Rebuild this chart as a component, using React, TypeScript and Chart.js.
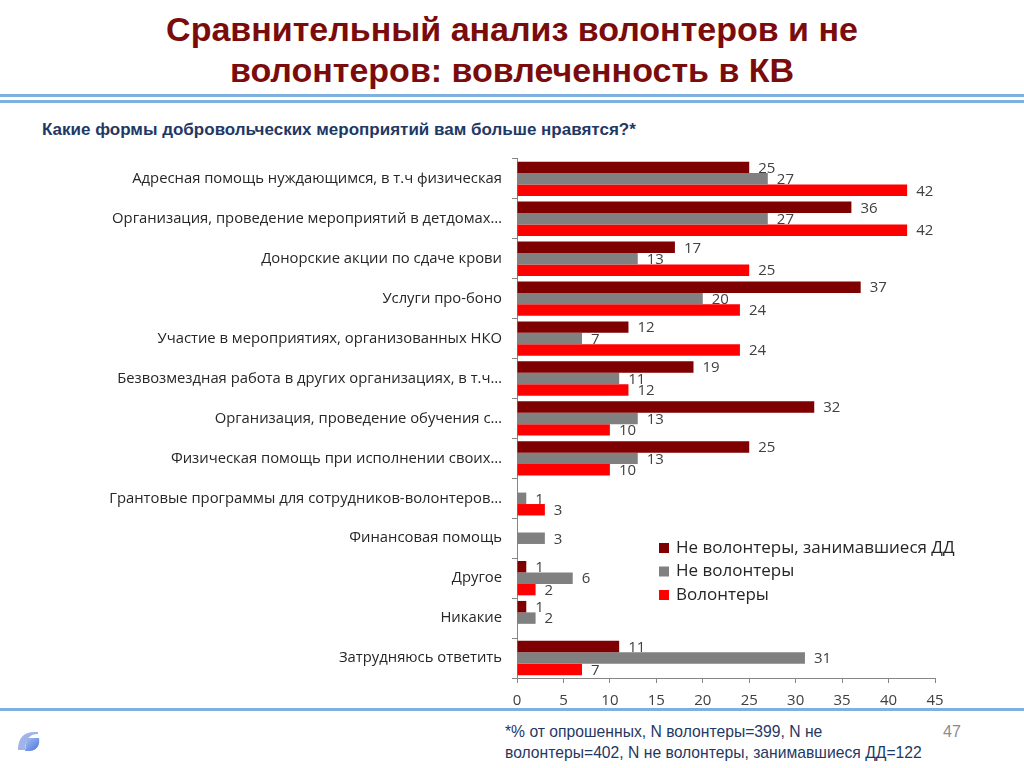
import React, { useEffect, useRef } from "react";
import { Chart, registerables } from "chart.js";

Chart.register(...registerables);

const categories: string[] = [
  "Адресная помощь нуждающимся, в т.ч физическая",
  "Организация, проведение мероприятий в детдомах…",
  "Донорские акции по сдаче крови",
  "Услуги про-боно",
  "Участие в мероприятиях, организованных НКО",
  "Безвозмездная работа в других организациях, в т.ч…",
  "Организация, проведение обучения с…",
  "Физическая помощь при исполнении своих…",
  "Грантовые программы для сотрудников-волонтеров…",
  "Финансовая помощь",
  "Другое",
  "Никакие",
  "Затрудняюсь ответить",
];

const nonVolunteersDD: (number | null)[] = [25, 36, 17, 37, 12, 19, 32, 25, null, null, 1, 1, 11];
const nonVolunteers: (number | null)[] = [27, 27, 13, 20, 7, 11, 13, 13, 1, 3, 6, 2, 31];
const volunteers: (number | null)[] = [42, 42, 25, 24, 24, 12, 10, 10, 3, null, 2, null, 7];

const seriesNames: string[] = ["Не волонтеры, занимавшиеся ДД", "Не волонтеры", "Волонтеры"];
const seriesColors: string[] = ["#7f0000", "#808080", "#ff0000"];

const xMin = 0;
const xMax = 45;
const xStep = 5;

const LABEL_FONT = "'Open Sans', 'Noto Sans', sans-serif";

const dataLabelPlugin = {
  id: "dataLabels",
  afterDatasetsDraw(chart: any) {
    const ctx = chart.ctx;
    ctx.save();
    ctx.font = `15px ${LABEL_FONT}`;
    ctx.fillStyle = "#404040";
    ctx.textAlign = "left";
    ctx.textBaseline = "middle";
    chart.data.datasets.forEach((ds: any, di: number) => {
      const meta = chart.getDatasetMeta(di);
      meta.data.forEach((el: any, i: number) => {
        const v = ds.data[i];
        if (v === null || v === undefined) return;
        ctx.fillText(String(v), el.x + 9, el.y + 1);
      });
    });
    ctx.restore();
  },
};

const legendPlugin = {
  id: "customLegend",
  afterDraw(chart: any) {
    const ctx = chart.ctx;
    ctx.save();
    ctx.font = `17px ${LABEL_FONT}`;
    ctx.textBaseline = "middle";
    ctx.textAlign = "left";
    const x0 = 659;
    const y0 = 548 - 140;
    const dy = 23.5;
    chart.data.datasets.forEach((ds: any, i: number) => {
      const y = y0 + i * dy;
      ctx.fillStyle = ds.backgroundColor;
      ctx.fillRect(x0, y - 5, 10, 10);
      ctx.fillStyle = "#262626";
      ctx.fillText(ds.label, x0 + 17, y);
    });
    ctx.restore();
  },
};

function ChartCanvas() {
  const ref = useRef<HTMLCanvasElement | null>(null);
  useEffect(() => {
    if (!ref.current) return;
    const chart = new Chart(ref.current, {
      type: "bar",
      data: {
        labels: categories,
        datasets: [
          { label: seriesNames[0], data: nonVolunteersDD, backgroundColor: seriesColors[0] },
          { label: seriesNames[1], data: nonVolunteers, backgroundColor: seriesColors[1] },
          { label: seriesNames[2], data: volunteers, backgroundColor: seriesColors[2] },
        ],
      },
      options: {
        indexAxis: "y",
        responsive: false,
        animation: false,
        layout: { padding: { top: 15, right: 89, left: 0, bottom: 0 } },
        datasets: {
          bar: { categoryPercentage: 0.86, barPercentage: 1.0 },
        },
        plugins: {
          legend: { display: false },
          tooltip: { enabled: false },
          title: { display: false },
        },
        scales: {
          x: {
            min: xMin,
            max: xMax,
            ticks: { stepSize: xStep, color: "#404040", font: { size: 15, family: LABEL_FONT }, padding: 9 },
            grid: { drawOnChartArea: false, drawTicks: true, tickLength: 5, color: "#868686" },
            border: { display: true, color: "#868686" },
            afterFit(scale: any) {
              scale.height = 42;
            },
          },
          y: {
            ticks: { color: "#262626", font: { size: 14.8, family: LABEL_FONT }, padding: 10, autoSkip: false },
            grid: { drawOnChartArea: false, drawTicks: true, tickLength: 5, color: "#868686", offset: true },
            border: { display: true, color: "#868686" },
            afterFit(scale: any) {
              scale.width = 517;
            },
          },
        },
      },
      plugins: [dataLabelPlugin, legendPlugin],
    } as any);
    return () => chart.destroy();
  }, []);
  return <canvas ref={ref} width={1024} height={580} style={{ position: "absolute", left: 0, top: 140, width: 1024, height: 580 }} />;
}

export default function App() {
  useEffect(() => {
    document.body.style.margin = "0";
  }, []);
  const narrow = "'Liberation Sans Narrow', 'Arial Narrow', 'Liberation Sans', Arial, sans-serif";
  return (
    <div style={{ position: "relative", width: 1024, height: 768, background: "#ffffff", overflow: "hidden" }}>
      <div
        style={{
          position: "absolute",
          left: 0,
          top: 9,
          width: 1024,
          textAlign: "center",
          fontFamily: "'Liberation Sans', Arial, sans-serif",
          fontWeight: "bold",
          fontSize: 34,
          lineHeight: "41px",
          color: "#7a0c0c",
        }}
      >
        Сравнительный анализ волонтеров и не
        <br />
        волонтеров: вовлеченность в КВ
      </div>
      <div style={{ position: "absolute", left: 0, top: 94, width: 1024, height: 3, background: "#7eb0e0" }} />
      <div style={{ position: "absolute", left: 0, top: 100, width: 1024, height: 3, background: "#7eb0e0" }} />
      <div
        style={{
          position: "absolute",
          left: 42,
          top: 120,
          fontFamily: narrow,
          fontWeight: "bold",
          fontSize: 17,
          color: "#1f3864",
          whiteSpace: "nowrap",
        }}
      >
        Какие формы добровольческих мероприятий вам больше нравятся?*
      </div>
      <ChartCanvas />
      <div style={{ position: "absolute", left: 0, top: 708, width: 1024, height: 3, background: "#7eb0e0" }} />
      <svg style={{ position: "absolute", left: 14, top: 726 }} width={30} height={30} viewBox="0 0 30 30">
        <defs>
          <linearGradient id="lg" x1="0" y1="0" x2="1" y2="1">
            <stop offset="0" stopColor="#a8c0f0" />
            <stop offset="1" stopColor="#4a74e0" />
          </linearGradient>
        </defs>
        <path d="M4 24 C4 12 10 6 20 6 L24 6 L24 8 C16 8 12 12 11 24 Z" fill="#9fb4e8" />
        <path d="M13 12 L25 12 C26 18 24 24 16 25 L11 25 Z" fill="url(#lg)" />
      </svg>
      <div
        style={{
          position: "absolute",
          left: 505,
          top: 721,
          fontFamily: narrow,
          fontSize: 15.7,
          lineHeight: "21px",
          color: "#1f3864",
          whiteSpace: "nowrap",
        }}
      >
        *% от опрошенных, N волонтеры=399, N не
        <br />
        волонтеры=402, N не волонтеры, занимавшиеся ДД=122
      </div>
      <div
        style={{
          position: "absolute",
          left: 943,
          top: 723,
          fontFamily: narrow,
          fontSize: 16,
          color: "#8c8c8c",
        }}
      >
        47
      </div>
    </div>
  );
}
